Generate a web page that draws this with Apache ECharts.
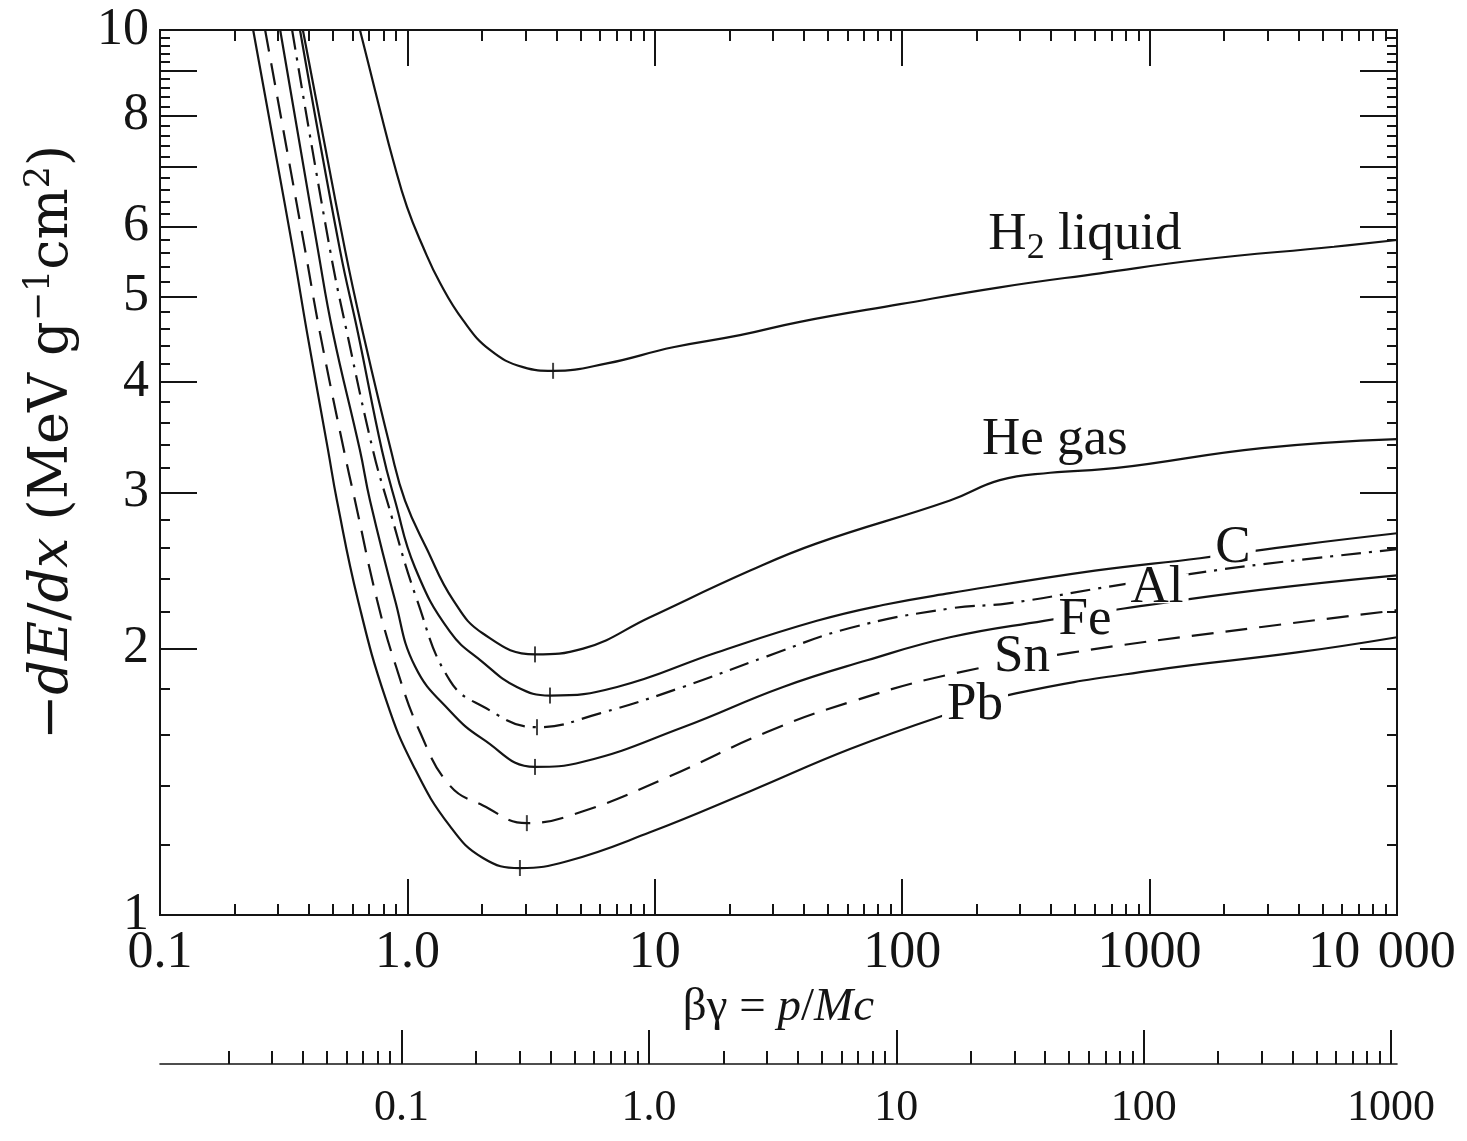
<!DOCTYPE html>
<html><head><meta charset="utf-8">
<script src="https://cdn.jsdelivr.net/npm/echarts@6/dist/echarts.min.js"></script>
<style>html,body{margin:0;padding:0;background:#fff}#c{width:1467px;height:1141px}</style>
</head><body><div id="c"></div>
<script>
// ---- data (betagamma, -dE/dx in MeV g^-1 cm^2) ----
const h2Liquid = [[0.643,10],[0.706,9.01],[0.775,8.12],[0.875,7.13],[0.996,6.31],[1.156,5.69],[1.354,5.18],[1.678,4.70],[2.157,4.35],[2.934,4.16],[3.88,4.12],[6.41,4.20],[11.85,4.38],[22.1,4.52],[38.6,4.68],[98,4.90],[248,5.12],[630,5.31],[1599,5.50],[5564,5.69],[10000,5.79]];
const heGas = [[0.378,10],[0.560,5.64],[0.661,4.55],[0.858,3.35],[0.978,2.94],[1.20,2.59],[1.529,2.27],[2.02,2.08],[3.28,1.97],[5.13,2.00],[9.56,2.17],[24.3,2.45],[45.2,2.63],[156,2.94],[248,3.10],[396,3.16],[738,3.20],[2846,3.37],[10000,3.45]];
const carbon = [[0.368,10],[0.534,5.64],[0.631,4.55],[0.789,3.35],[0.891,2.94],[1.073,2.47],[1.486,2.09],[2.02,1.93],[2.77,1.81],[3.77,1.77],[7.04,1.81],[17.8,1.98],[45.2,2.15],[83.6,2.24],[156,2.31],[601,2.45],[1598,2.53],[4055,2.62],[10000,2.70]];
const aluminium = [[0.342,10],[0.487,5.64],[0.570,4.55],[0.726,3.35],[0.827,2.94],[1.094,2.27],[1.486,1.84],[2.02,1.72],[3.34,1.63],[6.0,1.69],[13.0,1.81],[28.4,1.96],[61.5,2.11],[156,2.22],[268,2.25],[686,2.35],[1644,2.44],[2820,2.49],[10000,2.59]];
const iron = [[0.306,10],[0.435,5.64],[0.500,4.55],[0.643,3.35],[0.706,2.94],[0.891,2.27],[1.073,1.91],[1.486,1.70],[2.02,1.58],[3.28,1.47],[5.13,1.49],[13.0,1.63],[33.0,1.81],[72.1,1.94],[156,2.06],[374,2.15],[788,2.22],[2794,2.33],[10000,2.42]];
const tin = [[0.266,10],[0.386,5.64],[0.443,4.55],[0.554,3.35],[0.614,2.94],[0.754,2.27],[0.899,1.91],[1.124,1.61],[1.486,1.40],[2.02,1.33],[3.04,1.27],[5.13,1.31],[11.2,1.43],[28.4,1.61],[61.5,1.74],[156,1.87],[490,1.98],[2017,2.09],[10000,2.21]];
const lead = [[0.238,10],[0.345,5.64],[0.393,4.55],[0.478,3.35],[0.519,2.94],[0.631,2.27],[0.820,1.75],[1.063,1.47],[1.486,1.26],[2.02,1.16],[2.85,1.13],[4.42,1.15],[9.56,1.24],[24.3,1.38],[61.5,1.54],[156,1.69],[288,1.78],[1032,1.89],[3945,1.98],[10000,2.06]];

// minimum-ionization markers on each curve
const minimaX = [3.88, 3.28, 3.77, 3.34, 3.28, 3.04, 2.85];
const minimaY = [4.12, 1.97, 1.77, 1.63, 1.47, 1.27, 1.13];

// curve annotations
const annotTexts = ['{h|H}{hs|2}{h| liquid}', '{h|He gas}', '{n|C}', '{n|Al}', '{n|Fe}', '{n|Sn}', '{n|Pb}'];
const annotX = [548, 414, 2173, 1072, 548, 305, 197];
const annotY = [5.87, 3.44, 2.60, 2.34, 2.154, 1.957, 1.727];

// axes
const xLabelValues = [0.1, 1, 10, 100, 1000, 10000];
const xLabelTexts = ['0.1', '1.0', '10', '100', '1000', '{w|10\u2004000}'];
const xMajorTicks = [1, 10, 100, 1000];
const yLabelValues = [1, 2, 3, 4, 5, 6, 8, 10];
const yLabelTexts = ['1', '2', '3', '4', '5', '6', '8', '10'];
const yMajorTicks = [2, 3, 4, 5, 6, 7, 8, 9];
const muonMass = 0.10566; // GeV/c^2, momentum axis p = betagamma * M
const pLabelValues = [0.1, 1, 10, 100, 1000];
const pLabelTexts = ['0.1', '1.0', '10', '100', '1000'];
const decades = [0.01, 0.1, 1, 10, 100, 1000];
const multipliers = [2, 3, 4, 5, 6, 7, 8, 9];

const xRange = [0.1, 10000];
const yRange = [1, 10];

const xMinorTicks = [];
decades.forEach(d => multipliers.forEach(m => { const v = +(d * m).toPrecision(6); if (v > xRange[0] && v < xRange[1]) xMinorTicks.push(v); }));
const pRange = [xRange[0] * muonMass, xRange[1] * muonMass];
const pMinorTicks = [];
decades.forEach(d => multipliers.forEach(m => { const v = +(d * m).toPrecision(6); if (v > pRange[0] && v < pRange[1]) pMinorTicks.push(v); }));
const yMinorTicks = [];
for (let k = 12; k < 100; k += 2) { if (k % 10 !== 0) yMinorTicks.push(k / 10); }

const INK = '#141414';
const FONT = '"Liberation Serif", "DejaVu Serif", serif';
const TFONT = '"DejaVu Serif", "Liberation Serif", serif';

function lookup(values, texts) {
  return function (v) {
    const i = values.findIndex(t => Math.abs(Math.log10(t) - Math.log10(v)) < 1e-6);
    return i >= 0 ? texts[i] : '';
  };
}

function axisBase(extra) {
  return Object.assign({
    type: 'log', logBase: 10,
    axisLine: { show: true, onZero: false, lineStyle: { color: INK, width: 2 } },
    splitLine: { show: false }, minorTick: { show: false }, minorSplitLine: { show: false },
    axisLabel: { show: false },
    axisPointer: { show: false }
  }, extra);
}
function ticks(values, len) {
  return { show: true, inside: true, length: len, customValues: values, lineStyle: { color: INK, width: 2 } };
}

const chart = echarts.init(document.getElementById('c'), null, { renderer: 'canvas' });

const lineSeries = (name, data, type) => ({
  name, type: 'line', data, xAxisIndex: 0, yAxisIndex: 0,
  showSymbol: false, symbol: 'none', smooth: 0.45,
  clip: true, z: 3,
  lineStyle: { color: INK, width: 2.2, type: type || 'solid' }
});

const maskedLabels = ['{n|C}', '{n|Al}', '{n|Fe}', '{n|Sn}', '{n|Pb}'];

const option = {
  backgroundColor: '#ffffff',
  animation: false,
  grid: [
    { left: 160, right: 70, top: 30, bottom: 226, containLabel: false, outerBoundsMode: 'none' },
    { left: 160, right: 70, top: 1063, height: 1, containLabel: false, outerBoundsMode: 'none' }
  ],
  xAxis: [
    axisBase({
      gridIndex: 0, position: 'bottom', min: xRange[0], max: xRange[1],
      axisTick: ticks(xMajorTicks, 36),
      axisLabel: { show: true, customValues: xLabelValues, formatter: lookup(xLabelValues, xLabelTexts),
        margin: 12, fontFamily: FONT, fontSize: 52, color: INK,
        rich: { w: { fontFamily: FONT, fontSize: 52, color: INK, padding: [0, 30, 0, 0] } } },
      name: '{n|\u03b2\u03b3 = }{i|p}{n|/}{i|Mc}', nameLocation: 'middle', nameGap: 66,
      nameTextStyle: { fontFamily: FONT, fontSize: 47, color: INK,
        rich: { n: { fontFamily: FONT, fontSize: 47, color: INK }, i: { fontFamily: FONT, fontSize: 47, fontStyle: 'italic', color: INK } } }
    }),
    axisBase({ gridIndex: 0, position: 'bottom', min: xRange[0], max: xRange[1], axisTick: ticks(xMinorTicks, 11) }),
    axisBase({ gridIndex: 0, position: 'top', min: xRange[0], max: xRange[1], axisTick: ticks(xMajorTicks, 36) }),
    axisBase({ gridIndex: 0, position: 'top', min: xRange[0], max: xRange[1], axisTick: ticks(xMinorTicks, 11) }),
    axisBase({
      gridIndex: 1, position: 'bottom', min: pRange[0], max: pRange[1],
      axisLine: { show: true, onZero: false, lineStyle: { color: INK, width: 1.6 } },
      axisTick: ticks(pLabelValues, 34),
      axisLabel: { show: true, customValues: pLabelValues, formatter: lookup(pLabelValues, pLabelTexts),
        margin: 22, fontFamily: FONT, fontSize: 44, color: INK }
    }),
    axisBase({ gridIndex: 1, position: 'bottom', min: pRange[0], max: pRange[1],
      axisLine: { show: false }, axisTick: ticks(pMinorTicks, 13) })
  ],
  yAxis: [
    axisBase({
      gridIndex: 0, position: 'left', min: yRange[0], max: yRange[1],
      axisTick: ticks(yMajorTicks, 37),
      axisLabel: { show: true, customValues: yLabelValues, formatter: lookup(yLabelValues, yLabelTexts),
        margin: 11, fontFamily: FONT, fontSize: 52, color: INK },
      name: '{n|\u2212}{i|dE}{n|/}{i|dx}{n| (MeV g}{s|\u22121}{n|cm}{s|2}{n|)}',
      nameLocation: 'middle', nameRotate: 90, nameGap: 76,
      nameTextStyle: { fontFamily: TFONT, fontSize: 54, color: INK, padding: [0, 0, 0, 60],
        rich: {
          n: { fontFamily: TFONT, fontSize: 54, lineHeight: 62, color: INK },
          i: { fontFamily: TFONT, fontSize: 54, lineHeight: 62, fontStyle: 'italic', color: INK },
          s: { fontFamily: TFONT, fontSize: 35, lineHeight: 36, verticalAlign: 'top', color: INK }
        } }
    }),
    axisBase({ gridIndex: 0, position: 'left', min: yRange[0], max: yRange[1], axisTick: ticks(yMinorTicks, 10) }),
    axisBase({ gridIndex: 0, position: 'right', min: yRange[0], max: yRange[1], axisTick: ticks(yMajorTicks, 37) }),
    axisBase({ gridIndex: 0, position: 'right', min: yRange[0], max: yRange[1], axisTick: ticks(yMinorTicks, 10) }),
    { type: 'value', gridIndex: 1, show: false, min: 0, max: 1 }
  ],
  series: [
    lineSeries('H2 liquid', h2Liquid),
    lineSeries('He gas', heGas),
    lineSeries('C', carbon),
    lineSeries('Al', aluminium, [20, 8, 3, 8]),
    lineSeries('Fe', iron),
    lineSeries('Sn', tin, [22, 12]),
    lineSeries('Pb', lead),
    {
      name: 'minima', type: 'scatter', xAxisIndex: 0, yAxisIndex: 0, z: 4,
      symbol: 'rect', symbolSize: [2, 16], itemStyle: { color: INK },
      data: minimaX.map((x, i) => [x, minimaY[i]])
    },
    {
      name: 'labels', type: 'scatter', xAxisIndex: 0, yAxisIndex: 0, z: 10, zlevel: 1,
      symbol: 'circle', symbolSize: 1, itemStyle: { color: '#ffffff', opacity: 1 },
      silent: true,
      data: annotX.map((x, i) => {
        const masked = maskedLabels.indexOf(annotTexts[i]) >= 0;
        return { value: [x, annotY[i]], text: annotTexts[i],
          label: masked ? { backgroundColor: '#ffffff', padding: [0, 5] } : { backgroundColor: 'transparent', padding: 0 } };
      }),
      label: {
        show: true, position: 'inside',
        formatter: p => p.data.text,
        fontFamily: FONT, fontSize: 53, color: INK, opacity: 1,
        textBorderWidth: 0, textBorderColor: 'transparent', textShadowBlur: 0,
        rich: {
          n: { fontFamily: FONT, fontSize: 53, lineHeight: 30, color: INK, textBorderWidth: 0 },
          h: { fontFamily: FONT, fontSize: 53, lineHeight: 64, color: INK, textBorderWidth: 0 },
          hs: { fontFamily: FONT, fontSize: 36, lineHeight: 34, verticalAlign: 'bottom', color: INK, textBorderWidth: 0 }
        }
      }
    }
  ]
};
chart.setOption(option);
</script>
</body></html>
